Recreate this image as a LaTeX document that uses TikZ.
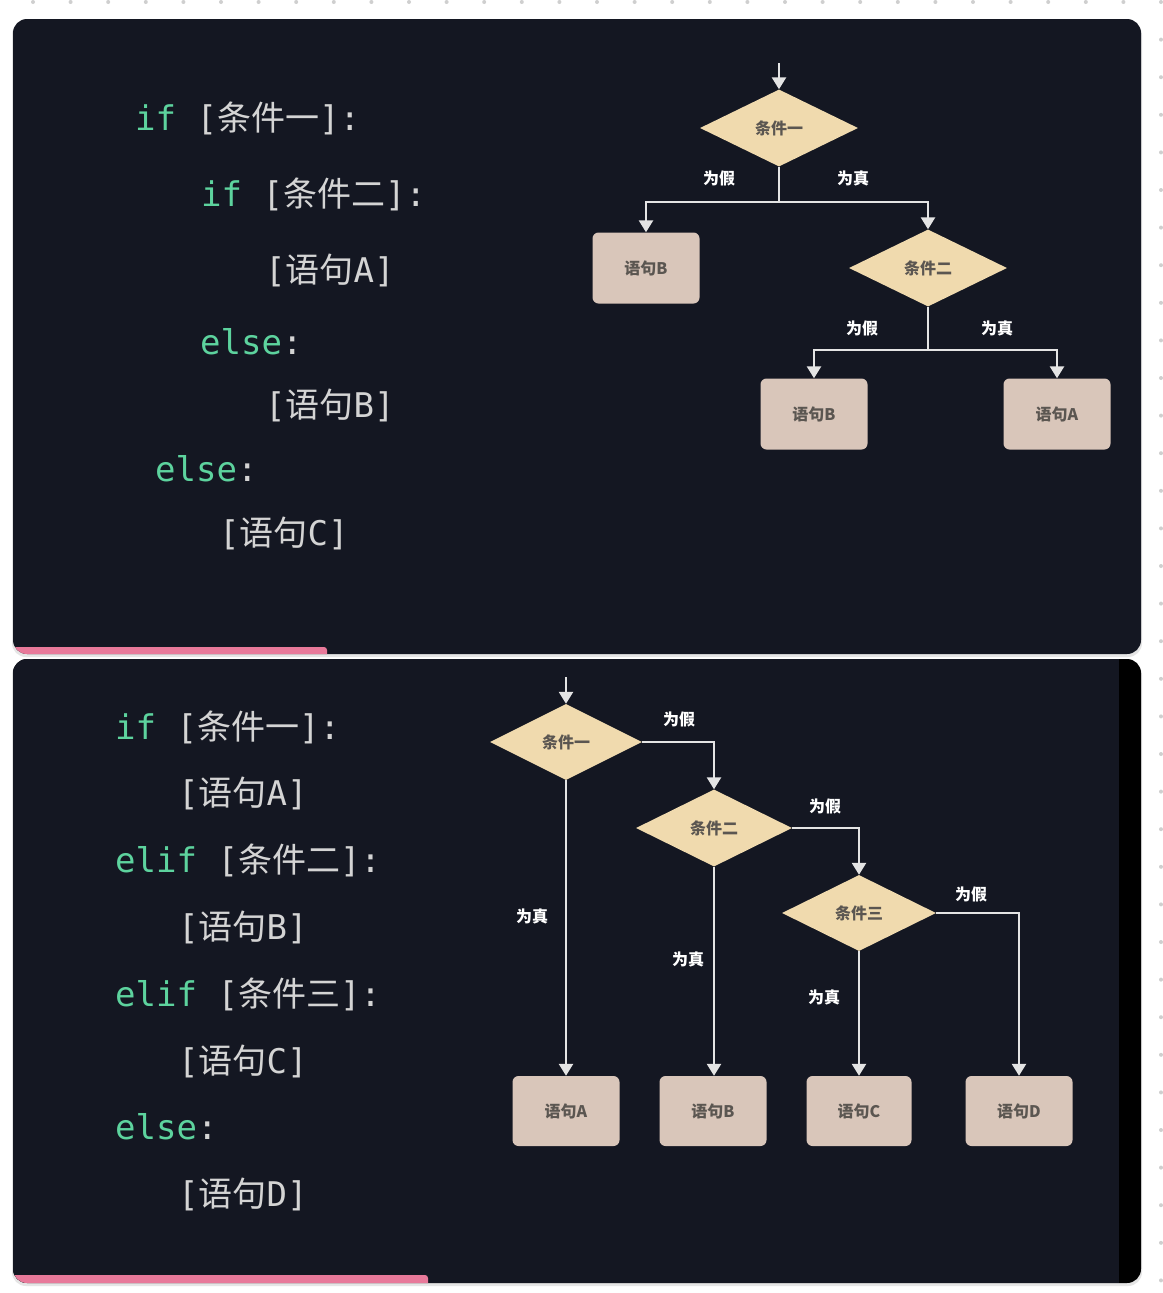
\documentclass[tikz,border=0pt]{standalone}
\usepackage{fontspec}
\usepackage{xcolor}
\setmonofont{DejaVu Sans Mono}
\newfontfamily\cjk{Noto Sans CJK SC}
\usepackage{tikz}
\usetikzlibrary{shapes.geometric,positioning}
\usetikzlibrary{arrows.meta}
\definecolor{panel}{HTML}{141722}
\definecolor{kwgreen}{HTML}{5DD39E}
\definecolor{codegray}{HTML}{D4D4D4}
\definecolor{condfill}{HTML}{F0DAAE}
\definecolor{stmtfill}{HTML}{D9C6BA}
\definecolor{nodetext}{HTML}{5B5651}
\definecolor{linegray}{HTML}{E4E4E4}
\definecolor{barpink}{HTML}{E8799A}
\definecolor{dotgray}{HTML}{CFCFCF}
\newcommand{\kw}[1]{{\color{kwgreen}#1}}
\newcommand{\zh}[1]{{\cjk #1}}
\tikzset{
	codeline/.style={anchor=base west,inner sep=0,text=codegray,font=\ttfamily\fontsize{34}{40}\selectfont},
	cond/.style={diamond,aspect=2,fill=condfill,minimum width=158pt,minimum height=77pt,inner sep=0,text=nodetext,font=\cjk\bfseries\fontsize{16}{16}\selectfont},
	stmt/.style={rectangle,rounded corners=6pt,fill=stmtfill,minimum width=107pt,minimum height=71pt,text=nodetext,font=\cjk\bfseries\fontsize{16}{16}\selectfont},
	flow/.style={draw=linegray,line width=2.6pt},
	arr/.style={flow,-{Triangle[width=14pt,length=12pt]}},
	lab/.style={inner sep=0,text=white,font=\cjk\bfseries\fontsize{16}{16}\selectfont}
}

\begin{document}
\begin{tikzpicture}[x=1pt,y=-1pt]
	\def\rc{14pt}
	\def\dy{66.8}
\useasboundingbox (0,0) rectangle (1162,1293);
\fill[white] (0,0) rectangle (1162,1293);

%Points du fond
\foreach \i in {0,...,30}
	\foreach \j in {0,...,34}
		\fill[dotgray] ({33+37.6*\i},{2+37.6*\j}) circle (2pt);

%Panneaux
\fill[black!10,rounded corners=\rc] (12,21) rectangle (1142,657);
\fill[panel,rounded corners=\rc] (13,19) rectangle (1141,654);
\begin{scope}
	\clip[rounded corners=\rc] (13,19) rectangle (1141,654);
	\fill[barpink,rounded corners=3pt] (5,647) rectangle (327,662);
\end{scope}

\fill[black!10,rounded corners=\rc] (12,661) rectangle (1142,1286);
\fill[black,rounded corners=\rc] (13,659) rectangle (1141,1283);
\begin{scope}
	\clip[rounded corners=\rc] (13,659) rectangle (1141,1283);
	\fill[panel] (13,659) rectangle (1119,1283);
	\fill[barpink,rounded corners=3pt] (5,1275) rectangle (428,1292);
\end{scope}

%Code du haut
\node[codeline] (p1) at (135,130) {\kw{if} [\zh{条件一}]:};
\node[codeline] (p2) at (201,206) {\kw{if} [\zh{条件二}]:};
\node[codeline] (p3) at (265,282) {[\zh{语句}A]};
\node[codeline] (p4) at (200,354) {\kw{else}:};
\node[codeline] (p5) at (265,417) {[\zh{语句}B]};
\node[codeline] (p6) at (155,481) {\kw{else}:};
\node[codeline] (p7) at (219,545) {[\zh{语句}C]};

%Organigramme du haut
\coordinate (s1) at (779,63);
\node[cond] (c1) at (779,128) {条件一};
\coordinate (j1) at (779,202);
\node[stmt] (b1) at (646,268) {语句B};
\node[cond] (c2) at (928,268) {条件二};
\coordinate (j2) at (928,350);
\node[stmt] (b2) at (814,414) {语句B};
\node[stmt] (b3) at (1057,414) {语句A};

\draw[arr] (s1) -- (c1.north);
\draw[flow] (c1.south) -- (j1);
\draw[arr] (j1) -| (b1.north);
\draw[arr] (j1) -| (c2.north);
\draw[flow] (c2.south) -- (j2);
\draw[arr] (j2) -| (b2.north);
\draw[arr] (j2) -| (b3.north);

\node[lab] (l1) at (719,178) {为假};
\node[lab] (l2) at (853,178) {为真};
\node[lab] (l3) at (862,328) {为假};
\node[lab] (l4) at (997,328) {为真};

%Code du bas
\node[codeline] (q1) at (115,739) {\kw{if} [\zh{条件一}]:};
\node[codeline] (q2) at (178,739+\dy) {[\zh{语句}A]};
\node[codeline] (q3) at (115,739+2*\dy) {\kw{elif} [\zh{条件二}]:};
\node[codeline] (q4) at (178,739+3*\dy) {[\zh{语句}B]};
\node[codeline] (q5) at (115,739+4*\dy) {\kw{elif} [\zh{条件三}]:};
\node[codeline] (q6) at (178,739+5*\dy) {[\zh{语句}C]};
\node[codeline] (q7) at (115,739+6*\dy) {\kw{else}:};
\node[codeline] (q8) at (178,739+7*\dy) {[\zh{语句}D]};

%Organigramme du bas
\coordinate (s2) at (566,677);
\node[cond,minimum width=152pt,minimum height=76pt] (d1) at (566,742) {条件一};
\node[cond,minimum width=156pt] (d2) at (714,828) {条件二};
\node[cond,minimum width=154pt,minimum height=76pt] (d3) at (859,913) {条件三};
\node[stmt,minimum height=70pt] (e1) at (566,1111) {语句A};
\node[stmt,minimum height=70pt] (e2) at (713,1111) {语句B};
\node[stmt,minimum width=105pt,minimum height=70pt] (e3) at (859,1111) {语句C};
\node[stmt,minimum height=70pt] (e4) at (1019,1111) {语句D};

\draw[arr] (s2) -- (d1.north);
\draw[arr] (d1.east) -| (d2.north);
\draw[arr] (d1.south) -- (e1.north);
\draw[arr] (d2.east) -| (d3.north);
\draw[arr] (d2.south) -- (d2.south |- e2.north);
\draw[arr] (d3.east) -| (e4.north);
\draw[arr] (d3.south) -- (e3.north);

\node[lab] (m1) at (679,719) {为假};
\node[lab] (m2) at (532,916) {为真};
\node[lab] (m3) at (825,806) {为假};
\node[lab] (m4) at (688,959) {为真};
\node[lab] (m5) at (971,894) {为假};
\node[lab] (m6) at (824,997) {为真};

\end{tikzpicture}
\end{document}
